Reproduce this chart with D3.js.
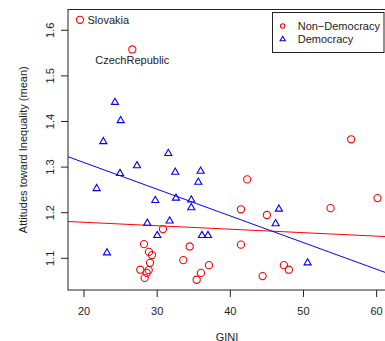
<!DOCTYPE html>
<html>
<head>
<meta charset="utf-8">
<script src="https://cdn.jsdelivr.net/npm/d3@7/dist/d3.min.js"></script>
<style>
html,body{margin:0;padding:0;background:#fff;}
svg{display:block;font-family:"Liberation Sans",Arial,Helvetica,sans-serif;}
</style>
</head>
<body>
<svg id="chart" width="385" height="341"></svg>
<script>
// Democracy (blue triangles)
const demGini = [24.23,25.01,22.64,31.52,27.24,24.92,32.47,21.73,35.94,35.62,29.74,32.57,34.66,34.66,28.65,31.71,30.01,23.14,36.12,36.94,46.64,46.19,50.56];
const demAtt  = [1.442,1.402,1.356,1.330,1.303,1.286,1.289,1.253,1.291,1.267,1.227,1.232,1.228,1.211,1.177,1.182,1.150,1.112,1.150,1.150,1.208,1.176,1.090];
// Non-Democracy (red circles)
const nonGini = [19.45,26.6,56.52,42.31,60.12,53.70,41.45,45.0,30.79,28.20,28.88,29.29,29.02,27.69,28.84,28.57,28.29,34.44,41.45,33.57,37.08,35.98,35.40,44.41,47.32,48.0];
const nonAtt  = [1.623,1.558,1.361,1.273,1.232,1.210,1.2075,1.195,1.164,1.131,1.114,1.107,1.090,1.075,1.074,1.068,1.057,1.126,1.130,1.096,1.085,1.068,1.053,1.061,1.085,1.075];
const nonLabels = ["Slovakia","CzechRepublic"]; // labels for first two non-democracy points
// Regression fits [intercept, slope]
const fitNon = [1.1942,-0.00076];
const fitDem = [1.4270,-0.005853];
const xTicks = [20,30,40,50,60];
const yTicks = [1.1,1.2,1.3,1.4,1.5,1.6];
const legendLabels = ["Non\u2212Democracy","Democracy"];
const xTitle = "GINI";
const yTitle = "Attitudes toward Inequality (mean)";

const svg = d3.select("#chart");
const L=68, R=392, T=9.5, B=290;
const x = d3.scaleLinear().domain([17.81,62.1]).range([L,R]);
const y = d3.scaleLinear().domain([1.0305,1.6456]).range([B,T]);
const red="#FF0000", blue="#0000FF", ink="#222";

svg.append("defs").append("clipPath").attr("id","clip")
  .append("rect").attr("x",L).attr("y",T).attr("width",R-L).attr("height",B-T);

const plot = svg.append("g").attr("clip-path","url(#clip)");

// regression lines
function fitLine(f,color){
  const xs = x.domain();
  plot.append("line")
    .attr("x1",x(xs[0])).attr("y1",y(f[0]+f[1]*xs[0]))
    .attr("x2",x(xs[1])).attr("y2",y(f[0]+f[1]*xs[1]))
    .attr("stroke",color).attr("stroke-width",1);
}
fitLine(fitNon,red);
fitLine(fitDem,blue);

// points
const tri = d3.symbol().type(d3.symbolTriangle).size(22);
plot.selectAll("path.dem").data(demGini.map((g,i)=>[g,demAtt[i]])).join("path")
  .attr("class","dem")
  .attr("d",tri)
  .attr("transform",d=>`translate(${x(d[0])},${y(d[1])})`)
  .attr("fill","none").attr("stroke",blue).attr("stroke-width",1.1);
plot.selectAll("circle.non").data(nonGini.map((g,i)=>[g,nonAtt[i]])).join("circle")
  .attr("class","non")
  .attr("cx",d=>x(d[0])).attr("cy",d=>y(d[1])).attr("r",3.6)
  .attr("fill","none").attr("stroke",red).attr("stroke-width",1.1);

// point labels
svg.append("text").attr("x",x(nonGini[0])+7.5).attr("y",y(nonAtt[0])+4)
  .attr("font-size",11).attr("fill",ink).text(nonLabels[0]);
svg.append("text").attr("x",x(nonGini[1])).attr("y",y(nonAtt[1])+15)
  .attr("font-size",11).attr("fill",ink).attr("text-anchor","middle").text(nonLabels[1]);

// box
svg.append("rect").attr("x",L).attr("y",T).attr("width",R-L).attr("height",B-T)
  .attr("fill","none").attr("stroke",ink).attr("stroke-width",1);

// x axis
const xa = svg.append("g");
xa.selectAll("line").data(xTicks).join("line")
  .attr("x1",d=>x(d)).attr("x2",d=>x(d)).attr("y1",B).attr("y2",B+7)
  .attr("stroke",ink);
xa.selectAll("text").data(xTicks).join("text")
  .attr("x",d=>x(d)).attr("y",314.5).attr("text-anchor","middle")
  .attr("font-size",11).attr("fill",ink).text(d=>d);
// y axis
const ya = svg.append("g");
ya.selectAll("line").data(yTicks).join("line")
  .attr("x1",L-7).attr("x2",L).attr("y1",d=>y(d)).attr("y2",d=>y(d))
  .attr("stroke",ink);
ya.selectAll("text").data(yTicks).join("text")
  .attr("transform",d=>`translate(53.5,${y(d)}) rotate(-90)`)
  .attr("text-anchor","middle").attr("font-size",11).attr("fill",ink)
  .text(d=>d3.format(".1f")(d));

// titles
svg.append("text").attr("x",(L+R)/2 - 3).attr("y",340.5).attr("text-anchor","middle")
  .attr("font-size",11).attr("fill",ink).text(xTitle);
svg.append("text").attr("transform",`translate(26.5,${(T+B)/2}) rotate(-90)`)
  .attr("text-anchor","middle").attr("font-size",11).attr("fill",ink).text(yTitle);

// legend
const lg = svg.append("g");
lg.append("rect").attr("x",272.5).attr("y",12.5).attr("width",111.5).attr("height",40)
  .attr("fill","#fff").attr("stroke",ink).attr("stroke-width",1);
const rows=[26,39.3];
lg.append("circle").attr("cx",282.7).attr("cy",rows[0]).attr("r",2.2)
  .attr("fill","none").attr("stroke",red).attr("stroke-width",1.1);
lg.append("path").attr("d",d3.symbol().type(d3.symbolTriangle).size(12)())
  .attr("transform",`translate(282.7,${rows[1]})`)
  .attr("fill","none").attr("stroke",blue).attr("stroke-width",1.1);
lg.selectAll("text.lg").data(legendLabels).join("text").attr("class","lg")
  .attr("x",297.7).attr("y",(d,i)=>rows[i]+4).attr("font-size",11).attr("fill",ink)
  .text(d=>d);
</script>
</body>
</html>
